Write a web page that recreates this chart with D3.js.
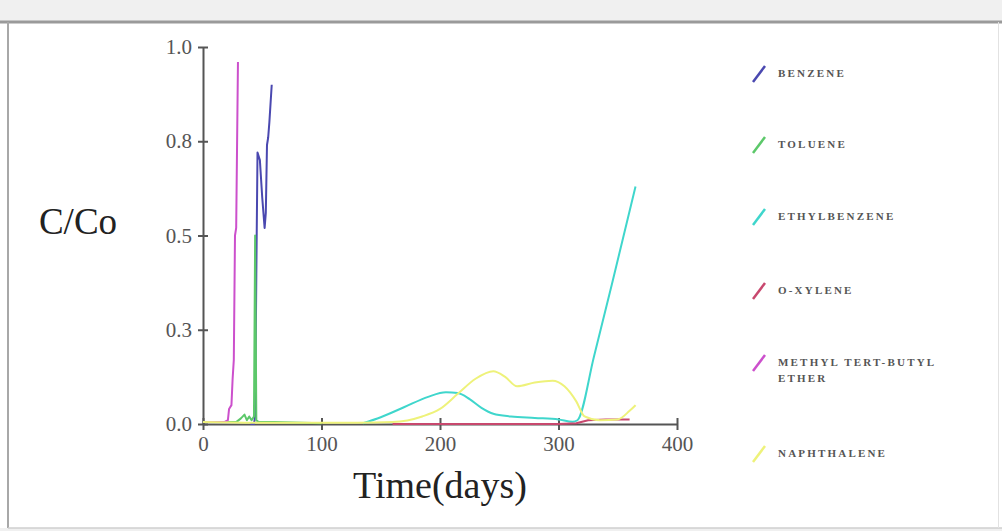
<!DOCTYPE html>
<html>
<head>
<meta charset="utf-8">
<script src="https://cdn.jsdelivr.net/npm/d3@7"></script>
<style>
  body { margin: 0; background: #fff; }
  svg { display: block; }
</style>
</head>
<body>
<div id="container"></div>
<script>
// series names (legend order) and colours
const seriesNames = ["BENZENE", "TOLUENE", "ETHYLBENZENE", "O-XYLENE", "METHYL TERT-BUTYL ETHER", "NAPHTHALENE"];
const seriesColors = ["#4a48b0", "#5cc86a", "#3fd6cc", "#c8486e", "#cc50cc", "#eef27a"];

// values: day, C/Co
const benzeneDays   = [40, 43, 44, 45, 46, 48, 50, 52, 53, 54, 55, 56, 57, 58];
const benzeneVals   = [0, 0, 0.02, 0.4, 0.72, 0.7, 0.6, 0.52, 0.56, 0.74, 0.76, 0.8, 0.85, 0.9];
const tolueneDays   = [0, 28, 32, 35, 37, 39, 41, 43, 44, 45, 47, 60, 100];
const tolueneVals   = [0.005, 0.005, 0.015, 0.025, 0.01, 0.02, 0.01, 0.02, 0.5, 0.01, 0.005, 0.005, 0.002];
const ethylDays     = [135, 150, 170, 190, 205, 215, 225, 235, 245, 260, 280, 300, 312, 316, 330, 345, 365];
const ethylVals     = [0.002, 0.018, 0.045, 0.072, 0.084, 0.082, 0.066, 0.043, 0.027, 0.02, 0.016, 0.012, 0.006, 0.01, 0.18, 0.37, 0.63];
const xyleneDays    = [160, 200, 250, 300, 315, 325, 340, 360];
const xyleneVals    = [0, 0, 0, 0, 0.002, 0.01, 0.012, 0.012];
const mtbeDays      = [0, 18, 21, 22, 24, 25, 26, 27, 28, 29.5];
const mtbeVals      = [0.005, 0.005, 0.01, 0.04, 0.05, 0.12, 0.17, 0.5, 0.52, 0.96];
const naphDays      = [0, 50, 100, 130, 160, 185, 200, 215, 230, 245, 255, 265, 280, 295, 305, 315, 322, 335, 350, 360, 365];
const naphVals      = [0.005, 0.003, 0.003, 0.003, 0.005, 0.02, 0.04, 0.08, 0.12, 0.14, 0.125, 0.1, 0.11, 0.115, 0.1, 0.06, 0.02, 0.01, 0.012, 0.035, 0.05];

const xTicks = [0, 100, 200, 300, 400];
const yTicks = [0, 0.25, 0.5, 0.75, 1.0];

const allDays = [benzeneDays, tolueneDays, ethylDays, xyleneDays, mtbeDays, naphDays];
const allVals = [benzeneVals, tolueneVals, ethylVals, xyleneVals, mtbeVals, naphVals];
// spiky series are drawn straight, the smooth ones with a monotone curve
const smooth = [false, false, true, false, false, true];
const series = seriesNames.map((n, i) => ({
  name: n,
  color: seriesColors[i],
  smooth: smooth[i],
  points: allDays[i].map((d, j) => [d, allVals[i][j]])
}));

const W = 1002, H = 531;
const svg = d3.select("#container").append("svg")
  .attr("width", W).attr("height", H);

// frame like the screenshot
svg.append("rect").attr("x", 0).attr("y", 0).attr("width", W).attr("height", 21).attr("fill", "#f0f0f0");
svg.append("rect").attr("x", 0).attr("y", 528).attr("width", W).attr("height", 3).attr("fill", "#f0f0f0");
svg.append("line").attr("x1", 0).attr("x2", W).attr("y1", 22).attr("y2", 22)
  .attr("stroke", "#9a9a9a").attr("stroke-width", 3);
svg.append("line").attr("x1", 8).attr("x2", 8).attr("y1", 22).attr("y2", 528)
  .attr("stroke", "#a8a8a8").attr("stroke-width", 2);
svg.append("line").attr("x1", 8).attr("x2", W).attr("y1", 528).attr("y2", 528)
  .attr("stroke", "#cfcfcf").attr("stroke-width", 1.5);
svg.append("line").attr("x1", 998.5).attr("x2", 998.5).attr("y1", 22).attr("y2", 528)
  .attr("stroke", "#e2e2e2").attr("stroke-width", 1);

const x = d3.scaleLinear().domain([0, 400]).range([203, 677]);
const y = d3.scaleLinear().domain([0, 1]).range([424, 47]);

const serif = "'Liberation Serif', 'Times New Roman', serif";

// axes (cross ticks: drawn on both sides)
const yAxisG = svg.append("g").attr("transform", `translate(${x(0)},0)`)
  .call(d3.axisLeft(y).tickValues(yTicks).tickFormat(d3.format(".1f")).tickSizeInner(5).tickSizeOuter(0).tickPadding(6));
yAxisG.selectAll(".tick line").attr("x2", 5).attr("x1", -5);
const xAxisG = svg.append("g").attr("transform", `translate(0,${y(0)})`)
  .call(d3.axisBottom(x).tickValues(xTicks).tickFormat(d3.format("d")).tickSizeInner(6).tickSizeOuter(0).tickPadding(6));
xAxisG.selectAll(".tick line").attr("y1", -6).attr("y2", 6);

[yAxisG, xAxisG].forEach(g => {
  g.select(".domain").attr("stroke", "#555").attr("stroke-width", 2);
  g.selectAll(".tick line").attr("stroke", "#555").attr("stroke-width", 2);
  g.selectAll(".tick text").attr("fill", "#555").style("font-family", serif).style("font-size", "21px");
});

// lines
const lineSmooth = d3.line().x(d => x(d[0])).y(d => y(d[1])).curve(d3.curveMonotoneX);
const lineStraight = d3.line().x(d => x(d[0])).y(d => y(d[1]));
svg.append("g").selectAll("path")
  .data(series)
  .join("path")
  .attr("d", d => (d.smooth ? lineSmooth : lineStraight)(d.points))
  .attr("fill", "none")
  .attr("stroke", d => d.color)
  .attr("stroke-width", 2)
  .attr("stroke-linejoin", "round");

// axis titles
svg.append("text").attr("x", 78).attr("y", 234).attr("text-anchor", "middle")
  .style("font-family", serif).style("font-size", "37px").attr("fill", "#222").text("C/Co");
svg.append("text").attr("x", 440).attr("y", 498).attr("text-anchor", "middle")
  .style("font-family", serif).style("font-size", "38px").attr("fill", "#222").text("Time(days)");

// legend
const legendY = [73, 144, 216, 290, 362, 453];
const lg = svg.append("g").selectAll("g")
  .data(series)
  .join("g")
  .attr("transform", (d, i) => `translate(778,${legendY[i]})`);
lg.append("line")
  .attr("x1", -25).attr("y1", 9).attr("x2", -13).attr("y2", -7)
  .attr("stroke", d => d.color).attr("stroke-width", 2.5);
lg.each(function(d) {
  const parts = d.name === "METHYL TERT-BUTYL ETHER" ? ["METHYL TERT-BUTYL", "ETHER"] : [d.name];
  const t = d3.select(this).append("text")
    .style("font-family", serif).style("font-size", "11px").style("font-weight", "bold")
    .style("letter-spacing", "2.2px").attr("fill", "#555");
  parts.forEach((p, k) => t.append("tspan").attr("x", 0).attr("y", 4 + k * 16).text(p));
});
</script>
</body>
</html>
